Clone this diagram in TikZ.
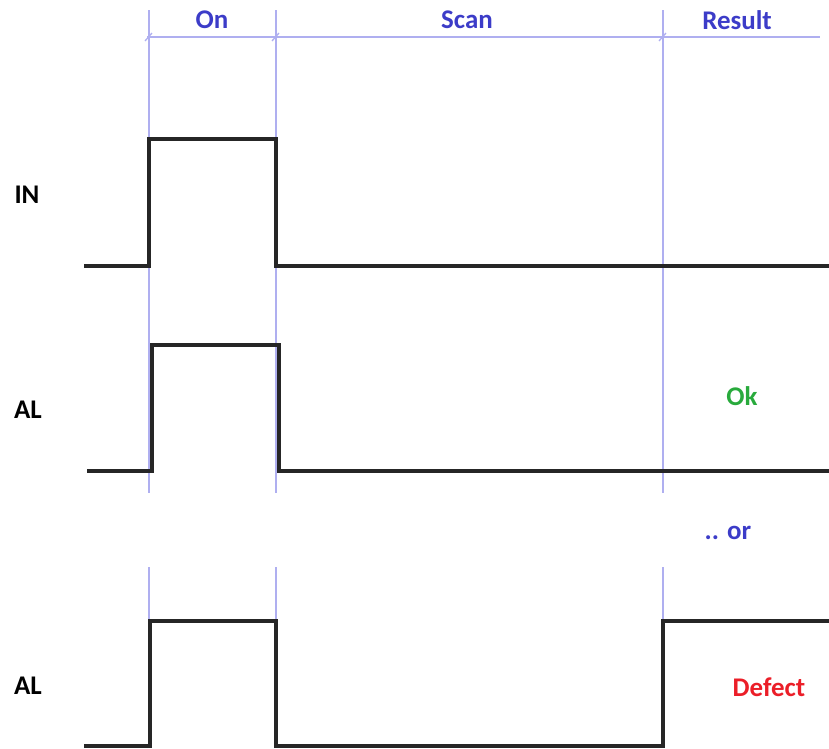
\documentclass[tikz,border=0pt]{standalone}
\usepackage{fontspec}
\setmainfont{Carlito}
\usetikzlibrary{calc}
\definecolor{guideblue}{RGB}{175,175,240}
\definecolor{headblue}{RGB}{60,60,200}
\definecolor{okgreen}{RGB}{40,170,60}
\definecolor{defred}{RGB}{235,30,40}
\tikzset{
  signal/.style={line width=2.9pt,black!85},
  guide/.style={line width=1.1pt,guideblue},
  lbl/.style={font=\bfseries\fontsize{23}{27}\selectfont},
}

\begin{document}
\begin{tikzpicture}[x=0.03cm,y=-0.03cm]
    \useasboundingbox (0,0) rectangle (829,749);

    % phase guides
    \foreach \x in {149,276,663}{
       \draw[guide] (\x,10)--(\x,493);
       \draw[guide] (\x,567)--(\x,621);
       \draw[guide] (\x-4,41)--(\x+3,33);
    }
    \draw[guide] (147,37)--(820,37);
    \node[lbl,headblue] at (212,20)   (on) {On};
    \node[lbl,headblue] at (467,20)   (scan) {Scan};
    \node[lbl,headblue] at (737,20)   (result) {Result};

    % IN
    \node[lbl] at (27,195)   (in) {IN};
    \draw[signal] (84,266)--(149,266)--(149,139)--(276,139)--(276,266)--(829,266);

    % AL, ok
    \node[lbl] at (28,410)   (alok) {AL};
    \draw[signal] (87,471)--(152,471)--(152,345)--(279,345)--(279,471)--(829,471);
    \node[lbl,okgreen] at (742,396)   (ok) {Ok};

    \node[lbl,headblue] at (728,533)   (or) {.. or};

    % AL, defect
    \node[lbl] at (28,686)   (aldef) {AL};
    \draw[signal] (84,746)--(150,746)--(150,621)--(276,621)--(276,746)--(663,746)--(663,621)--(829,621);
    \node[lbl,defred] at (769,687)   (defect) {Defect};
\end{tikzpicture}
\end{document}
